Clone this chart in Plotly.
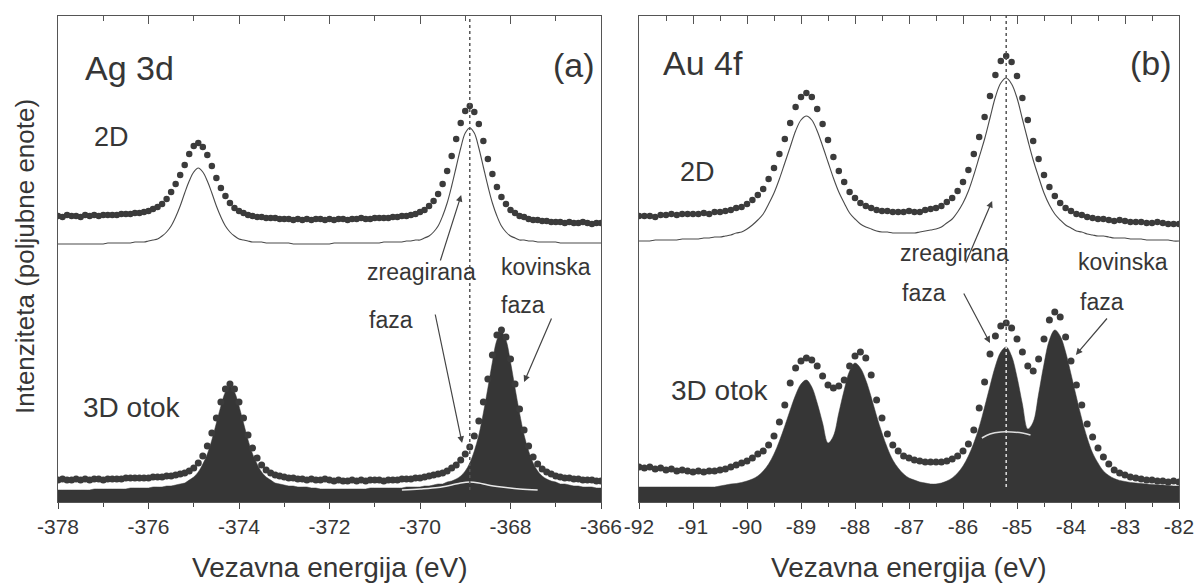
import numpy as np
import plotly.graph_objects as go

# ---------------- data (intensity in arbitrary units) ----------------
energy_ag = np.round(np.linspace(-378.0, -366.0, 121), 2)
energy_au = np.round(np.linspace(-92.0, -82.0, 101), 2)

ag_ticks = [-378, -376, -374, -372, -370, -368, -366]
ag_ticklabels = ['-378', '-376', '-374', '-372', '-370', '-368', '-366']
au_ticks = [-92, -91, -90, -89, -88, -87, -86, -85, -84, -83, -82]
au_ticklabels = ['-92', '-91', '-90', '-89', '-88', '-87', '-86', '-85', '-84', '-83', '-82']

ag_2d_data = [286,285,287,286,286,285,287,286,287,286,287,
              287,287,287,288,288,288,289,289,290,291,
              293,295,298,303,310,318,327,337,348,356,
              359,355,347,336,324,314,306,299,294,291,
              289,287,286,285,285,284,284,284,283,283,
              283,282,283,282,283,282,283,283,282,283,
              282,283,283,282,283,283,284,283,283,284,
              284,284,284,285,285,286,286,287,288,290,
              292,296,301,308,318,331,346,363,379,391,
              396,390,378,361,343,328,315,305,298,292,
              289,286,285,283,282,282,281,281,280,280,
              280,279,280,279,279,280,279,278,279,279]

ag_2d_fit = [258,258,258,258,258,258,258,258,258,258,258,
             259,259,259,259,259,259,260,260,260,261,
             262,263,266,270,276,285,296,309,321,330,
             334,330,321,309,296,285,276,270,266,263,
             262,261,260,260,260,259,259,259,259,259,
             259,258,258,258,258,258,258,258,258,258,
             259,259,259,259,259,259,259,259,259,259,
             259,260,260,260,260,260,261,261,262,262,
             264,266,270,276,286,299,316,335,354,369,
             374,369,354,335,316,299,286,276,270,266,
             264,262,262,261,261,260,260,260,260,260,
             259,259,259,259,259,259,259,259,259,259]

ag_3d_data = [22,23,22,22,23,22,23,22,23,23,22,23,23,23,23,24,
              24,24,24,24,24,
              25,25,25,26,26,27,28,29,31,34,
              39,46,56,69,84,100,113,118,113,100,
              84,67,54,44,37,32,29,27,26,25,
              24,24,23,23,22,23,22,22,23,22,
              21,22,21,21,22,21,22,21,22,22,
              22,21,22,22,22,
              23,23,23,24,24,
              25,26,27,28,29,31,34,37,42,48,
              55,66,81,100,123,147,167,172,165,143,
              118,93,72,56,45,38,33,30,28,26,
              25,24,24,23,23,22,22,22,21,21]

ag_3d_components = [12,12,12,12,12,12,12,12,13,13,13,13,13,13,13,13,
                    14,14,14,14,14,
                    15,15,15,16,16,17,18,19,22,25,
                    30,38,48,62,79,96,110,116,110,96,
                    79,62,48,38,30,25,22,19,18,17,
                    16,16,15,15,15,14,14,13,13,13,
                    13,13,13,13,13,13,13,13,14,14,
                    14,14,14,14,14,
                    14,15,15,15,15,
                    16,16,17,18,18,20,21,23,26,31,
                    39,51,67,89,114,140,162,170,162,140,
                    114,89,67,51,39,31,26,23,21,20,
                    18,18,17,16,16,15,15,15,14,14]

ag_reacted_energy = [-370.4, -370.0, -369.6, -369.3, -369.1, -368.9, -368.7, -368.5, -368.2, -367.8, -367.4]
ag_reacted_int = [12, 13, 14.5, 17, 19, 20, 19, 17, 15, 13, 12]

au_2d_data = [286,286,286,285,287,287,288,287,288,288,288,
              288,289,288,290,290,291,292,294,295,298,
              302,307,313,323,334,348,363,379,395,405,
              409,405,393,378,362,345,331,320,310,304,
              299,296,294,292,291,291,290,290,290,291,
              290,290,292,293,294,296,300,304,311,320,
              332,348,365,385,406,427,441,446,440,426,
              404,382,361,343,327,315,306,299,294,291,
              288,287,285,284,283,283,282,281,282,281,
              280,280,280,279,279,280,279,278,278,278]

au_2d_fit = [261,261,261,262,262,262,262,262,263,263,263,
             263,264,264,265,265,266,267,269,270,273,
             277,282,288,298,309,323,339,355,371,382,
             386,382,371,356,340,324,310,299,289,283,
             278,275,273,271,270,270,269,269,269,269,
             269,270,271,272,273,275,279,283,290,299,
             311,327,345,363,384,405,419,424,418,404,
             383,362,342,325,309,297,288,282,277,274,
             271,270,268,267,266,266,265,264,264,264,
             263,263,263,262,262,262,262,262,261,261]

au_3d_data = [35,34,35,33,34,32,33,31,32,31,30,
              31,30,31,31,32,33,35,37,39,41,
              44,48,51,57,66,80,97,119,134,141,
              144,142,136,126,117,114,116,122,136,146,
              150,144,127,102,84,68,57,51,46,44,
              42,41,40,40,40,40,41,43,46,51,
              58,72,94,120,148,166,176,179,174,163,
              150,136,131,143,163,182,190,185,165,141,
              117,97,78,65,54,45,38,32,29,27,
              25,24,23,22,22,21,21,20,21,20]

au_3d_components = [15,15,15,15,15,15,15,15,15,15,15,
                    15,15,15,15,16,17,18,18.5,19.5,21,
                    23,26,31,38,48,61,76,92,107,118,
                    122,115,99,79,59,66,89,112,131,139,
                    134,122,105,86,69,54,42,34,28,24,
                    22,20,19,18,18,19,21,24,29,36,
                    46,59,75,95,116,136,150,155,146,125,
                    98,73,80,108,138,162,172,166,150,128,
                    105,83,64,49,39,31,26.5,23.5,21.6,20.5,
                    19.6,19,18.5,18,17.6,17.3,17,16.5,16,16]

au_inner_energy = [-85.65, -85.5, -85.3, -85.1, -84.9, -84.75]
au_inner_int = [64, 68, 70, 70, 69, 67]

ag_marker_line = -368.9
au_marker_line = -85.2
full_range = [0, 486]
ag_dark_range = [12, 486]
au_white_range = [15, 155]
au_dark_range = [160, 486]

# ---------------- styling ----------------
DOT = '#3b3b3b'
FILL = '#363636'
LINE = '#4a4a4a'
TXT = '#363636'
FONT = 'Liberation Sans, Arial, sans-serif'

fig = go.Figure()

def dots(x, y, xa, ya, size):
    fig.add_trace(go.Scatter(x=x, y=y, mode='markers', xaxis=xa, yaxis=ya,
                             marker=dict(color=DOT, size=size, line=dict(width=0)),
                             showlegend=False, hoverinfo='skip'))

def line(x, y, xa, ya, color=LINE, width=1.2, dash='solid', shape='spline'):
    fig.add_trace(go.Scatter(x=x, y=y, mode='lines', xaxis=xa, yaxis=ya,
                             line=dict(color=color, width=width, dash=dash, shape=shape),
                             showlegend=False, hoverinfo='skip'))

def filled(x, y, xa, ya):
    fig.add_trace(go.Scatter(x=x, y=y, mode='lines', xaxis=xa, yaxis=ya, fill='tozeroy',
                             fillcolor=FILL, line=dict(color=FILL, width=0.5, shape='spline'),
                             showlegend=False, hoverinfo='skip'))

# ---- panel (a) Ag 3d ----
filled(energy_ag, ag_3d_components, 'x', 'y')
line(ag_reacted_energy, ag_reacted_int, 'x', 'y', color='#e8e8e8', width=1.5)
line(energy_ag, ag_2d_fit, 'x', 'y', width=1.1)
dots(energy_ag, ag_2d_data, 'x', 'y', 6.5)
dots(energy_ag, ag_3d_data, 'x', 'y', 7)
line([ag_marker_line, ag_marker_line], ag_dark_range, 'x3', 'y', color='#555', width=1.5, dash='dot', shape='linear')

# ---- panel (b) Au 4f ----
filled(energy_au, au_3d_components, 'x2', 'y2')
line(au_inner_energy, au_inner_int, 'x2', 'y2', color='#dddddd', width=1.5)
line([au_marker_line, au_marker_line], au_white_range, 'x2', 'y2', color='#e0e0e0', width=1.5, dash='dot', shape='linear')
line(energy_au, au_2d_fit, 'x2', 'y2', width=1.1)
dots(energy_au, au_2d_data, 'x2', 'y2', 6.5)
dots(energy_au, au_3d_data, 'x2', 'y2', 7)
line([au_marker_line, au_marker_line], au_dark_range, 'x4', 'y2', color='#555', width=1.5, dash='dot', shape='linear')

# ---------------- axes ----------------
W, H = 1196, 585
dom_a = [58 / W, 601 / W]
dom_b = [639 / W, 1179 / W]
dom_y = [(H - 502) / H, (H - 16) / H]

def xbase(dom, rng, vals, texts, minor0, minor):
    return dict(domain=dom, range=rng, tickmode='array', tickvals=vals, ticktext=texts,
                ticks='outside', ticklen=6, tickwidth=1, tickcolor='#444',
                minor=dict(tickmode='linear', tick0=minor0, dtick=minor, ticks='outside',
                           ticklen=4, tickcolor='#444'),
                showline=True, linecolor='#555', linewidth=1.2, mirror=True,
                showgrid=False, zeroline=False, automargin=False,
                tickfont=dict(family=FONT, size=21, color=TXT))

def xtop(over, rng, tick0, dtick, minor):
    return dict(overlaying=over, side='top', range=rng, tick0=tick0, dtick=dtick, tickmode='linear',
                ticks='inside', ticklen=8, tickcolor='#555',
                minor=dict(dtick=minor, ticks='inside', ticklen=5, tickcolor='#555'),
                showticklabels=False, showline=False, showgrid=False, zeroline=False,
                automargin=False)

def ybase(anchor):
    return dict(domain=dom_y, range=full_range, anchor=anchor, showticklabels=False, ticks='',
                showline=True, linecolor='#555', linewidth=1.2, mirror=True,
                showgrid=False, zeroline=False, automargin=False)

layout = dict(
    width=W, height=H, margin=dict(l=0, r=0, t=0, b=0, autoexpand=False),
    plot_bgcolor='white', paper_bgcolor='white', showlegend=False,
    xaxis=dict(anchor='y', **xbase(dom_a, [-378, -366], ag_ticks, ag_ticklabels, -378, 1)),
    xaxis3=dict(anchor='y', **xtop('x', [-378, -366], -378, 2, 1)),
    yaxis=ybase('x'),
    xaxis2=dict(anchor='y2', **xbase(dom_b, [-92, -82], au_ticks, au_ticklabels, -92, 0.5)),
    xaxis4=dict(anchor='y2', **xtop('x2', [-92, -82], -92, 1, 0.5)),
    yaxis2=ybase('x2'),
)
fig.update_layout(**layout)

# ---------------- annotations ----------------
ann = []
def label(text, x, y, xr, yr, size, anchor='left'):
    ann.append(dict(text=text, x=x, y=y, xref=xr, yref=yr, xanchor=anchor, yanchor='middle',
                    showarrow=False, font=dict(family=FONT, size=size, color=TXT)))

def arrow(x, y, ax, ay, xr, yr):
    ann.append(dict(text='', x=x, y=y, ax=ax, ay=ay, xref=xr, yref=yr, axref=xr, ayref=yr,
                    showarrow=True, arrowhead=2, arrowsize=1.1, arrowwidth=1.2, arrowcolor='#444'))

label('Ag 3d', -377.45, 434, 'x', 'y', 34)
label('(a)', -366.09, 437, 'x', 'y', 34, 'right')
label('2D', -377.25, 365, 'x', 'y', 27)
label('3D otok', -377.5, 95, 'x', 'y', 28)
label('zreagirana', -371.22, 230, 'x', 'y', 23)
label('faza', -371.17, 182, 'x', 'y', 23)
label('kovinska', -368.25, 235, 'x', 'y', 23)
label('faza', -368.25, 197, 'x', 'y', 23)
arrow(-369.09, 307, -369.56, 240, 'x', 'y')
arrow(-369.07, 59, -369.67, 189, 'x', 'y')
arrow(-367.70, 120, -367.08, 185, 'x', 'y')

label('Au 4f', -91.59, 439, 'x2', 'y2', 34)
label('(b)', -82.09, 439, 'x2', 'y2', 34, 'right')
label('2D', -91.28, 330, 'x2', 'y2', 27)
label('3D otok', -91.44, 112, 'x2', 'y2', 28)
label('zreagirana', -87.2, 249, 'x2', 'y2', 23)
label('faza', -87.17, 209, 'x2', 'y2', 23)
label('kovinska', -83.91, 240, 'x2', 'y2', 23)
label('faza', -83.87, 200, 'x2', 'y2', 23)
arrow(-85.46, 301, -85.96, 238, 'x2', 'y2')
arrow(-85.5, 159, -86.0, 210, 'x2', 'y2')
arrow(-83.91, 147, -83.31, 185, 'x2', 'y2')

for dom in (dom_a, dom_b):
    ann.append(dict(text='Vezavna energija (eV)', x=(dom[0] + dom[1]) / 2, y=(H - 567) / H,
                    xref='paper', yref='paper', xanchor='center', yanchor='middle', showarrow=False,
                    font=dict(family=FONT, size=28, color=TXT)))
ann.append(dict(text='Intenziteta (poljubne enote)', x=25 / W, y=(H - 257) / H, textangle=-90,
                xref='paper', yref='paper', xanchor='center', yanchor='middle', showarrow=False,
                font=dict(family=FONT, size=26, color=TXT)))
fig.update_layout(annotations=ann)

fig.write_html('out.html', config={'displayModeBar': False},
               post_script="document.body.style.margin='0px';document.body.style.overflow='hidden';")
